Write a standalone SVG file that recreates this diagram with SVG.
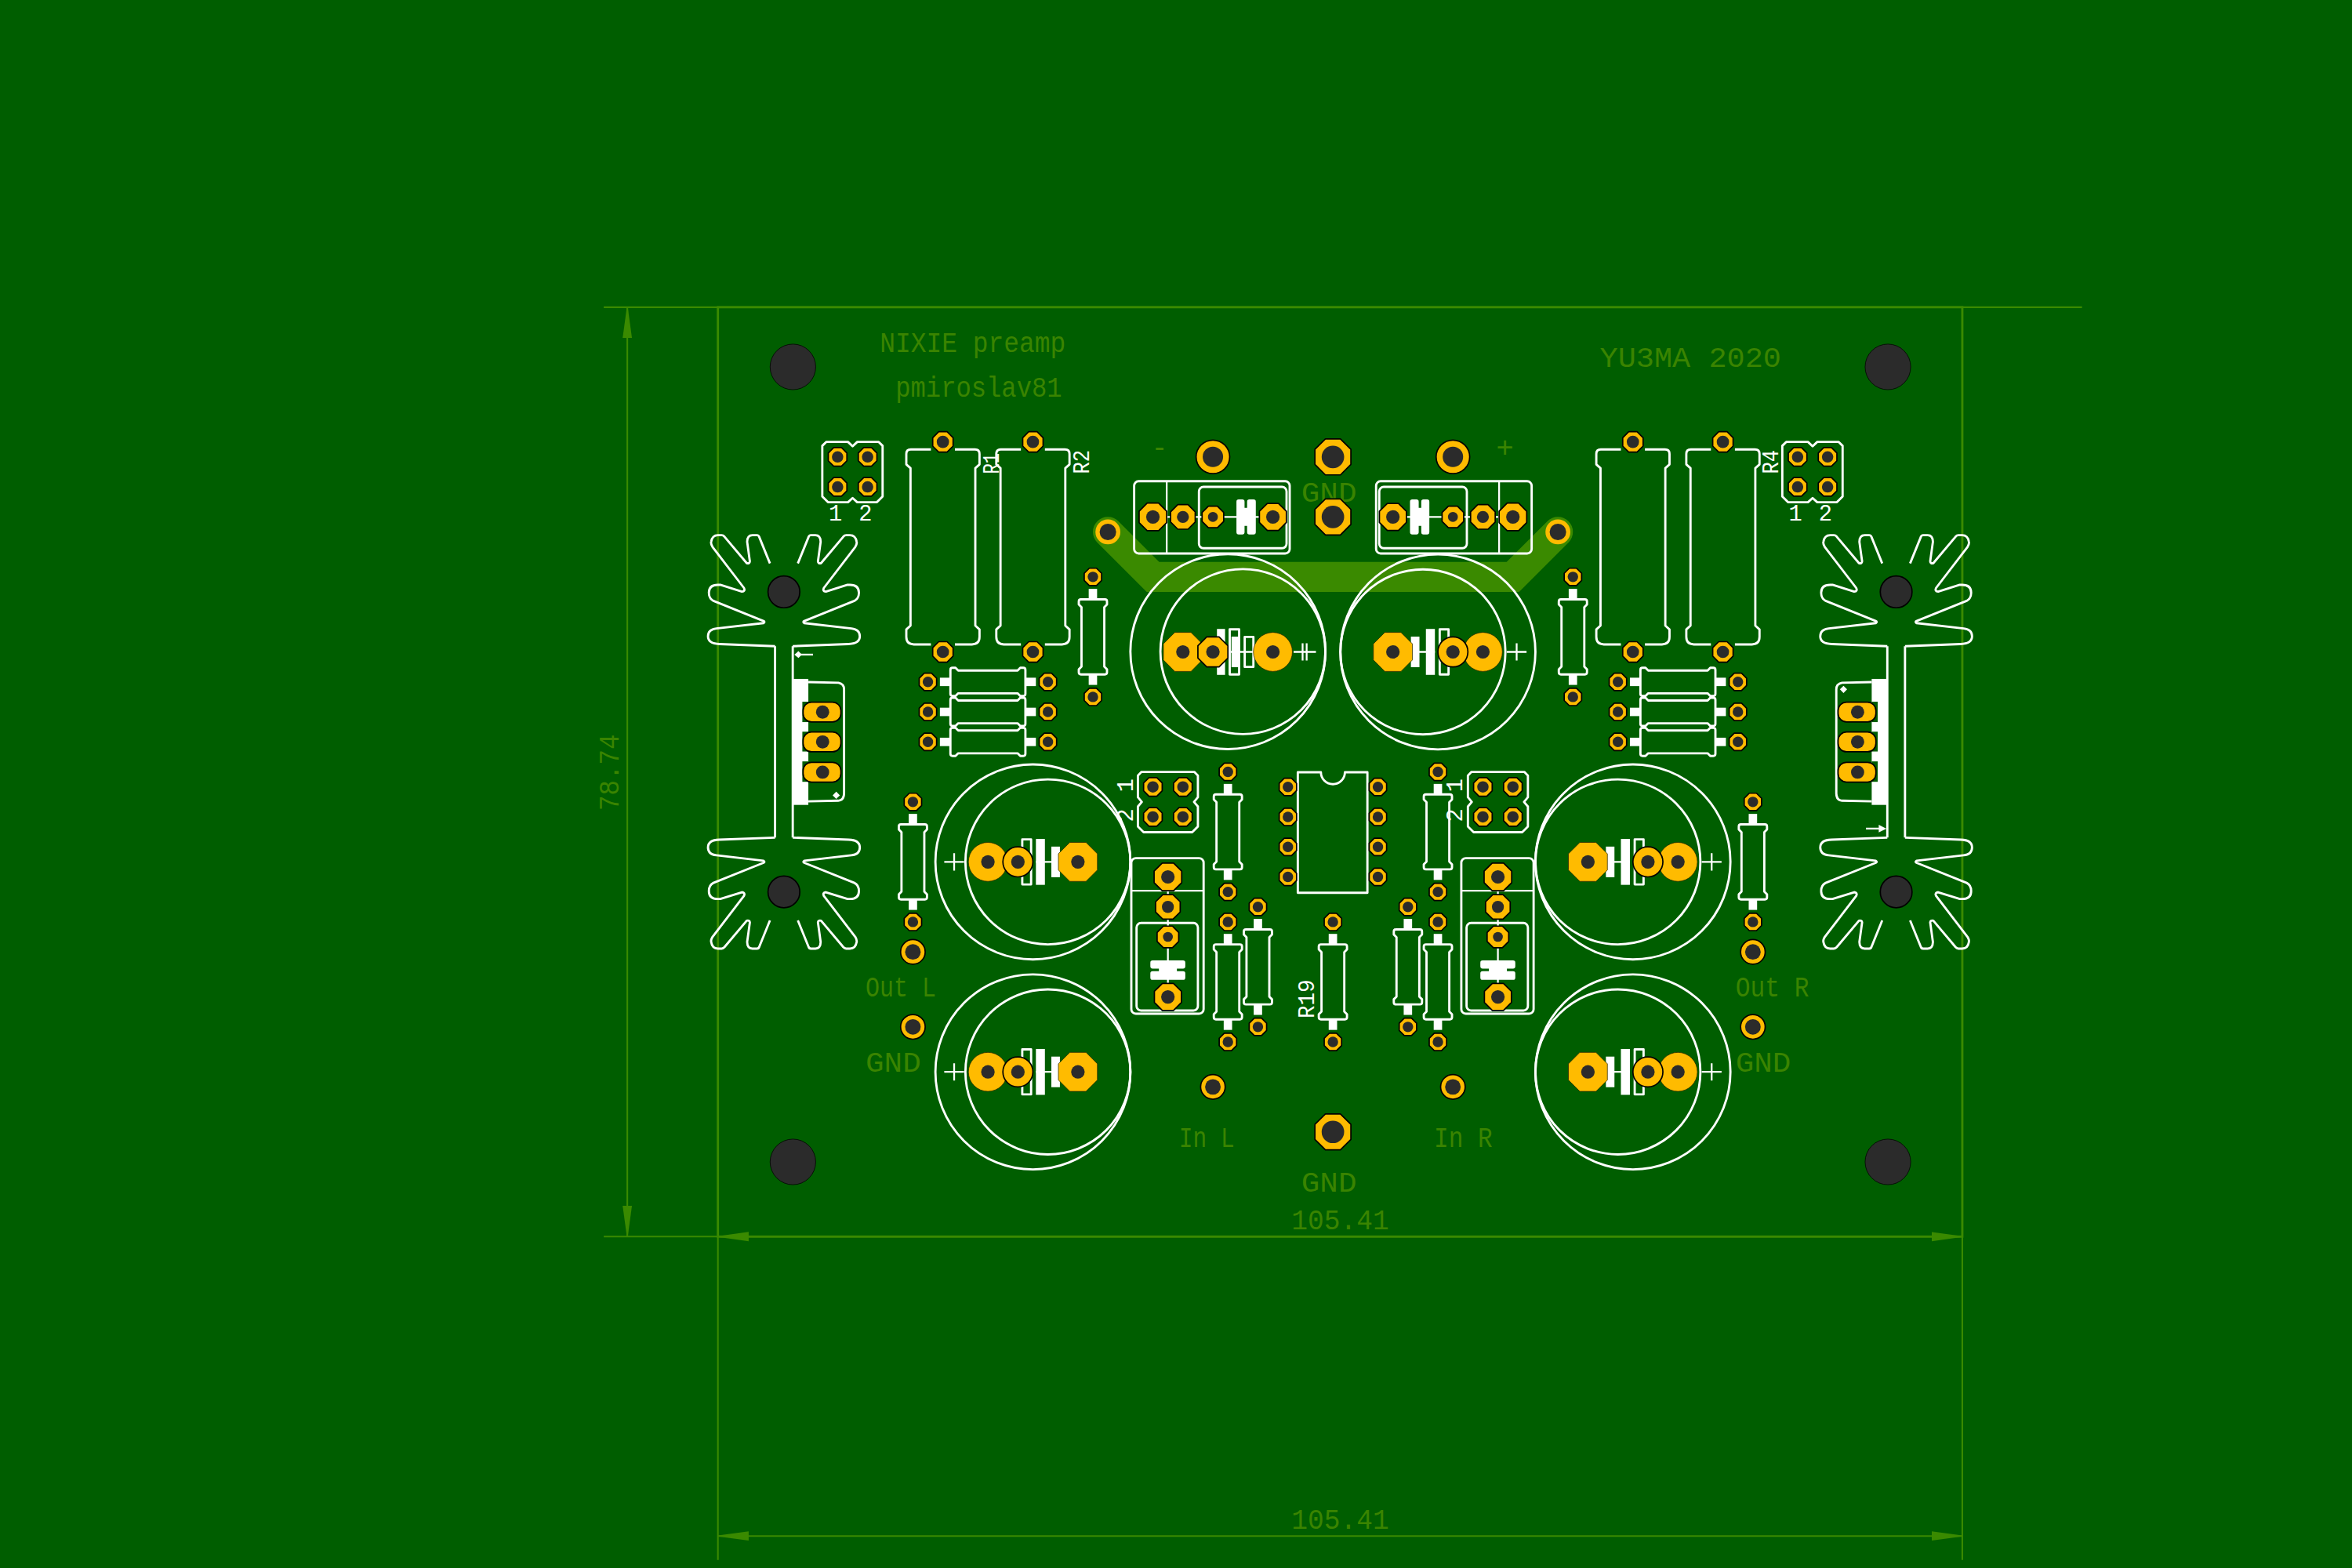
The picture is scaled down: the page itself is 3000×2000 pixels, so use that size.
<svg xmlns="http://www.w3.org/2000/svg" width="3000" height="2000" viewBox="0 0 3000 2000">
<style>
.w{fill:none;stroke:#fff;stroke-width:1.5;stroke-linejoin:round}
.wf{fill:#fff;stroke:none}
.wl{stroke:#fff;stroke-width:1.2;fill:none}
.ed{fill:none;stroke:#3a8a00;stroke-width:1.5}
.dm{fill:none;stroke:#3a8a00;stroke-width:1.1}
.cu{fill:#ffbb00;stroke:#000;stroke-width:.9;stroke-linejoin:round}
.cut{fill:#ffbb00;stroke:#2a2a00;stroke-width:.4}
.h{fill:#2b2b2b}
.hs{fill:#2b2b2b;stroke:#000;stroke-width:.9}
.hn{fill:#2b2b2b;stroke:#000;stroke-width:.4}
.t{font-family:"Liberation Mono","DejaVu Sans Mono",monospace;font-size:19.7px;fill:#3a8400}
.s{font-family:"Liberation Mono","DejaVu Sans Mono",monospace;font-size:15px;fill:#fff}
</style>
<defs>
<marker id="arw" markerUnits="userSpaceOnUse" markerWidth="22" markerHeight="8" refX="20.5" refY="4" orient="auto-start-reverse"><path d="M0,.9L20.5,3.7V4.3L0,7.1Z" fill="#3a8a00"/></marker>
<g id="pA"><polygon class="cu" points="5.8,2.4 2.4,5.8 -2.4,5.8 -5.8,2.4 -5.8,-2.4 -2.4,-5.8 2.4,-5.8 5.8,-2.4"/><circle class="h" r="3.5"/></g>
<g id="pB"><polygon class="cu" points="6.8,2.8 2.8,6.8 -2.8,6.8 -6.8,2.8 -6.8,-2.8 -2.8,-6.8 2.8,-6.8 6.8,-2.8"/><circle class="h" r="4.1"/></g>
<g id="pC"><polygon class="cu" points="6.2,2.6 2.6,6.2 -2.6,6.2 -6.2,2.6 -6.2,-2.6 -2.6,-6.2 2.6,-6.2 6.2,-2.6"/><circle class="h" r="3.8"/></g>
<g id="pE"><polygon class="cu" points="9.2,3.8 3.8,9.2 -3.8,9.2 -9.2,3.8 -9.2,-3.8 -3.8,-9.2 3.8,-9.2 9.2,-3.8"/><circle class="h" r="4.5"/></g>
<g id="pF"><polygon class="cu" points="8.2,3.4 3.4,8.2 -3.4,8.2 -8.2,3.4 -8.2,-3.4 -3.4,-8.2 3.4,-8.2 8.2,-3.4"/><circle class="h" r="4"/></g>
<g id="pG"><polygon class="cu" points="7.2,3 3,7.2 -3,7.2 -7.2,3 -7.2,-3 -3,-7.2 3,-7.2 7.2,-3"/><circle class="h" r="3.3"/></g>
<g id="pH"><polygon class="cu" points="9,3.7 3.7,9 -3.7,9 -9,3.7 -9,-3.7 -3.7,-9 3.7,-9 9,-3.7"/><circle class="h" r="4.5"/></g>
<g id="pI"><polygon class="cu" points="12,5 5,12 -5,12 -12,5 -12,-5 -5,-12 5,-12 12,-5"/><circle class="h" r="7.5"/></g>
<g id="pJ"><polygon class="cut" points="13,5.4 5.4,13 -5.4,13 -13,5.4 -13,-5.4 -5.4,-13 5.4,-13 13,-5.4"/><circle class="h" r="4.5"/></g>
<g id="pK"><polygon class="cu" points="10,4.1 4.1,10 -4.1,10 -10,4.1 -10,-4.1 -4.1,-10 4.1,-10 10,-4.1"/><circle class="h" r="4.5"/></g>
<g id="rD"><circle class="cu" r="8.2"/><circle class="h" r="5.2"/></g>
<g id="rE"><circle class="cu" r="11.2"/><circle class="h" r="6.8"/></g>
<g id="rK"><circle class="cut" r="13"/><circle class="h" r="4.5"/></g>
<g id="rL"><circle class="cu" r="10"/><circle class="h" r="4.5"/></g>
<g id="rM"><circle fill="#ffbb00" r="8.3"/><circle class="h" r="5.5"/></g>
<g id="obl"><rect class="cu" x="-12.6" y="-6.6" width="25.2" height="13.2" rx="5.6"/><circle class="h" cx=".4" r="4.4"/></g>
<g id="rs"><path class="w" d="M-8,-25H8Q9.4,-25 9.4,-23.6V-21.6L7.6,-19.8V19.8L9.4,21.6V23.6Q9.4,25 8,25H-8Q-9.4,25 -9.4,23.6V21.6L-7.6,19.8V-19.8L-9.4,-21.6V-23.6Q-9.4,-25 -8,-25Z"/><rect class="wf" x="-2.8" y="-32" width="5.6" height="7"/><rect class="wf" x="-2.8" y="25" width="5.6" height="7"/></g>
<g id="rb"><path class="w" d="M-8,-65H-21.4Q-24.4,-65 -24.4,-62V-55L-21.6,-52.5V52.5L-24.4,55V60Q-24.4,65 -19.4,65H-8M8,-65H21.4Q24.4,-65 24.4,-62V-55L21.6,-52.5V52.5L24.4,55V60Q24.4,65 19.4,65H8"/><use href="#pB" y="-70"/><use href="#pB" y="70"/></g>
<g id="hd"><path class="w" d="M-17.6,-20H-3.1L0,-17.1L3.1,-20H17.4L20,-17.4V16.4L16.2,20.2H3.1L0,17.4L-3.1,20.2H-16.4L-20.2,16.4V-17.4Z"/><use href="#pC" x="-10" y="-10"/><use href="#pC" x="10" y="-10"/><use href="#pC" x="-10" y="10"/><use href="#pC" x="10" y="10"/></g>
<g id="hv"><path class="w" d="M-17.6,-20H17.6L20,-17.6V-3.1L17.4,0L20,3.1V16.4L16.2,20.2H-16.2L-20,16.4V3.1L-17.4,0L-20,-3.1V-17.6Z"/><use href="#pC" x="-10" y="-10"/><use href="#pC" x="10" y="-10"/><use href="#pC" x="-10" y="10"/><use href="#pC" x="10" y="10"/></g>
<g id="rel"><rect class="w" x="-12.5" y="-23.8" width="103.7" height="48.2" rx="3"/><path class="wl" d="M9.2,-23.8V24.4"/><rect class="w" x="30.7" y="-20" width="58.4" height="40.9" rx="3"/><path class="wl" d="M0,0H80"/><path class="wf" d="M57.2,-11.6H59.6Q61.1,-11.6 61.1,-10.1V-6H62.8V-10.1Q62.8,-11.6 64.3,-11.6H67.1Q68.6,-11.6 68.6,-10.1V10.2Q68.6,11.7 67.1,11.7H64.3Q62.8,11.7 62.8,10.2V6H61.1V10.2Q61.1,11.7 59.6,11.7H57.2Q55.7,11.7 55.7,10.2V-10.1Q55.7,-11.6 57.2,-11.6Z"/><use href="#pE"/><use href="#pF" x="20"/><use href="#pG" x="40"/><use href="#pH" x="80"/></g>
<g id="cap"><circle class="w" r="65"/><circle class="w" cx="-10" r="55"/><path class="wl" d="M-18,0H-2M45.9,0H59.1M52.5,-5.8V5.8"/><rect class="wf" x="-18" y="-10.2" width="5.7" height="20.4"/><rect class="wf" x="-8" y="-15.3" width="6" height="30.6"/><rect class="w" x="1.2" y="-15" width="5.9" height="30"/><use href="#pJ" x="-30"/><use href="#rK" x="30"/><use href="#rL" x="10"/></g>
<path id="fin" class="w" d="M-5.9,36.2L-43,34.8Q-50.6,34.6 -50.6,29.6Q-50.6,25 -45,24.4L-13.6,20.8Q-12.4,20 -13.6,19.4L-47,6Q-50,4.5 -50,.5Q-50,-4.7 -44,-4.7L-42.4,-4.7L-28,-.2Q-25.6,-.5 -26.6,-2.6L-47.6,-30Q-48.8,-32 -48.5,-33.4Q-47.8,-37.8 -44,-37.8L-41.5,-37.8Q-40.5,-37.8 -39.6,-36.8L-24.8,-19.2Q-22.8,-18.7 -22.7,-20.4L-24.5,-33.4Q-24.4,-37.8 -21,-37.8L-18,-37.8Q-16.8,-37.8 -16.4,-36.5L-9.3,-19"/>
<g id="sink"><use href="#fin"/><use href="#fin" transform="scale(-1,1)"/><circle class="hs" r="10.6"/></g>
</defs>
<rect id="background" width="3000" height="2000" fill="#005e00"/>
<g id="board" transform="scale(1.91327)">
<g id="connectors">
<polyline id="trace" points="738.6,354.6 768.6,384.6 1008.6,384.6 1038.6,354.6" fill="none" stroke="#3a8a00" stroke-width="20" stroke-linecap="round"/>
<rect id="edge" class="ed" x="478.6" y="204.8" width="829.6" height="619.6"/>
<path class="dm" d="M402.5,204.8H1388M402.5,824.4H478.6M478.6,824.4V1040M1308.2,824.4V1040"/>
<path class="dm" marker-start="url(#arw)" marker-end="url(#arw)" d="M418.2,204.8V824.4"/>
<path class="dm" marker-start="url(#arw)" marker-end="url(#arw)" d="M478.6,824.4H1308.2"/>
<path class="dm" marker-start="url(#arw)" marker-end="url(#arw)" d="M478.6,1024H1308.2"/>
</g>
<g id="labels">
<text class="t" lengthAdjust="spacingAndGlyphs" x="586.5" y="234.5" textLength="124">NIXIE preamp</text>
<text class="t" lengthAdjust="spacingAndGlyphs" x="597" y="264.5" textLength="111">pmiroslav81</text>
<text class="t" lengthAdjust="spacingAndGlyphs" x="1066.5" y="244.5" textLength="121">YU3MA 2020</text>
<text class="t" lengthAdjust="spacingAndGlyphs" x="767.5" y="304.2" textLength="11">-</text>
<text class="t" x="1003.3" y="304.7" text-anchor="middle">+</text>
<text class="t" lengthAdjust="spacingAndGlyphs" x="867.5" y="334.5" textLength="37">GND</text>
<text class="t" lengthAdjust="spacingAndGlyphs" x="577" y="664.2" textLength="47">Out L</text>
<text class="t" lengthAdjust="spacingAndGlyphs" x="577" y="714.3" textLength="37">GND</text>
<text class="t" lengthAdjust="spacingAndGlyphs" x="1157" y="664.2" textLength="49">Out R</text>
<text class="t" lengthAdjust="spacingAndGlyphs" x="1157" y="714.3" textLength="37">GND</text>
<text class="t" lengthAdjust="spacingAndGlyphs" x="786" y="764.5" textLength="37">In L</text>
<text class="t" lengthAdjust="spacingAndGlyphs" x="956" y="764.5" textLength="39">In R</text>
<text class="t" lengthAdjust="spacingAndGlyphs" x="867.5" y="794.5" textLength="37">GND</text>
<text class="t" lengthAdjust="spacingAndGlyphs" x="861" y="819.5" textLength="65">105.41</text>
<text class="t" lengthAdjust="spacingAndGlyphs" x="861" y="1019" textLength="65">105.41</text>
<text class="t" lengthAdjust="spacingAndGlyphs" transform="translate(412.5,540.5) rotate(-90)" textLength="51">78.74</text>
</g>
<g id="mounting-holes">
<circle class="hn" cx="528.6" cy="244.6" r="15.2"/>
<circle class="hn" cx="1258.6" cy="244.6" r="15.2"/>
<circle class="hn" cx="528.6" cy="774.6" r="15.2"/>
<circle class="hn" cx="1258.6" cy="774.6" r="15.2"/>
</g>
<g id="heatsink-left">
<use href="#sink" transform="translate(522.6,394.6)"/>
<use href="#sink" transform="translate(522.6,594.6) scale(1,-1)"/>
<path class="w" d="M516.7,430.8V558.4M528.5,430.8V558.4"/>
</g>
<g id="heatsink-right">
<use href="#sink" transform="translate(1264.1,394.6)"/>
<use href="#sink" transform="translate(1264.1,594.6) scale(1,-1)"/>
<path class="w" d="M1258.2,430.8V558.4M1270,430.8V558.4"/>
</g>
<g id="U-left">
<path class="w" d="M538.9,454.7L559,455.2Q562.7,456 562.7,459.5V529Q562.7,533.4 558.8,533.8L538.9,534.2"/>
<rect class="wf" x="528.4" y="452.6" width="10.5" height="84"/>
<rect x="534.9" y="467.8" width="4" height="13.6" fill="#005e00"/>
<rect x="534.9" y="487.8" width="4" height="13.2" fill="#005e00"/>
<rect x="534.9" y="507.6" width="4" height="13.6" fill="#005e00"/>
<use href="#obl" x="548" y="474.7"/><use href="#obl" x="548" y="494.6"/><use href="#obl" x="548" y="514.8"/>
<path class="wf" d="M557.5,527.8L559.9,530.2L557.5,532.6L555.1,530.2Z"/>
<path class="wl" d="M532.3,436.4H542"/><path class="wf" d="M529.6,436.4L532.3,434.1L534.6,436.4L532.3,438.7Z"/>
</g>
<g id="U-right">
<path class="w" d="M1247.8,454.7L1228,455.2Q1224.2,456 1224.2,459.5V529Q1224.2,533.4 1228,533.8L1247.8,534.2"/>
<rect class="wf" x="1247.8" y="452.6" width="10.5" height="84"/>
<rect x="1247.8" y="467.8" width="4" height="13.6" fill="#005e00"/>
<rect x="1247.8" y="487.8" width="4" height="13.2" fill="#005e00"/>
<rect x="1247.8" y="507.6" width="4" height="13.6" fill="#005e00"/>
<use href="#obl" x="1238" y="474.7"/><use href="#obl" x="1238" y="494.6"/><use href="#obl" x="1238" y="514.8"/>
<path class="wf" d="M1229,457.2L1231.4,459.6L1229,462L1226.6,459.6Z"/>
<path class="wl" d="M1244,552.4H1254"/><path class="wf" d="M1257.6,552.4L1252.5,549.8V555Z"/>
</g>
<g id="R1"><use href="#rb" x="628.6" y="364.6"/><text class="s" lengthAdjust="spacingAndGlyphs" transform="translate(666,316) rotate(-90)" textLength="14">R1</text></g>
<g id="R2"><use href="#rb" x="688.6" y="364.6"/><text class="s" lengthAdjust="spacingAndGlyphs" transform="translate(726,316) rotate(-90)" textLength="16">R2</text></g>
<g id="R3"><use href="#rb" x="1088.6" y="364.6"/></g>
<g id="R4"><use href="#rb" x="1148.6" y="364.6"/><text class="s" lengthAdjust="spacingAndGlyphs" transform="translate(1185.4,316) rotate(-90)" textLength="16">R4</text></g>
<g id="J1"><use href="#hd" x="568.4" y="314.6"/><text class="s" x="552.5" y="347">1</text><text class="s" x="572.5" y="347">2</text></g>
<g id="J2"><use href="#hd" x="1208.4" y="314.6"/><text class="s" x="1192.5" y="347">1</text><text class="s" x="1212.5" y="347">2</text></g>
<g id="J3"><use href="#hv" x="778.6" y="534.6"/><text class="s" transform="translate(755,528) rotate(-90)">1</text><text class="s" transform="translate(755,548) rotate(-90)">2</text></g>
<g id="J4"><use href="#hv" x="998.6" y="534.6"/><text class="s" transform="translate(975,528) rotate(-90)">1</text><text class="s" transform="translate(975,548) rotate(-90)">2</text></g>
<g id="RH-left">
<use href="#rs" transform="translate(658.6,454.6) rotate(90)"/><use href="#rs" transform="translate(658.6,474.6) rotate(90)"/><use href="#rs" transform="translate(658.6,494.6) rotate(90)"/>
<use href="#pA" x="618.6" y="454.6"/><use href="#pA" x="698.6" y="454.6"/><use href="#pA" x="618.6" y="474.6"/><use href="#pA" x="698.6" y="474.6"/><use href="#pA" x="618.6" y="494.6"/><use href="#pA" x="698.6" y="494.6"/>
</g>
<g id="RH-right">
<use href="#rs" transform="translate(1118.6,454.6) rotate(90)"/><use href="#rs" transform="translate(1118.6,474.6) rotate(90)"/><use href="#rs" transform="translate(1118.6,494.6) rotate(90)"/>
<use href="#pA" x="1078.6" y="454.6"/><use href="#pA" x="1158.6" y="454.6"/><use href="#pA" x="1078.6" y="474.6"/><use href="#pA" x="1158.6" y="474.6"/><use href="#pA" x="1078.6" y="494.6"/><use href="#pA" x="1158.6" y="494.6"/>
</g>
<g id="RV1"><use href="#rs" x="728.6" y="424.6"/><use href="#pA" x="728.6" y="384.6"/><use href="#pA" x="728.6" y="464.6"/></g>
<g id="RV2"><use href="#rs" x="1048.6" y="424.6"/><use href="#pA" x="1048.6" y="384.6"/><use href="#pA" x="1048.6" y="464.6"/></g>
<g id="RV3"><use href="#rs" x="608.6" y="574.6"/><use href="#pA" x="608.6" y="534.6"/><use href="#pA" x="608.6" y="614.6"/></g>
<g id="RV4"><use href="#rs" x="1168.6" y="574.6"/><use href="#pA" x="1168.6" y="534.6"/><use href="#pA" x="1168.6" y="614.6"/></g>
<g id="RV5"><use href="#rs" x="818.6" y="554.6"/><use href="#pA" x="818.6" y="514.6"/><use href="#pA" x="818.6" y="594.6"/></g>
<g id="RV6"><use href="#rs" x="958.6" y="554.6"/><use href="#pA" x="958.6" y="514.6"/><use href="#pA" x="958.6" y="594.6"/></g>
<g id="RV7"><use href="#rs" x="818.6" y="654.6"/><use href="#pA" x="818.6" y="614.6"/><use href="#pA" x="818.6" y="694.6"/></g>
<g id="RV8"><use href="#rs" x="838.6" y="644.6"/><use href="#pA" x="838.6" y="604.6"/><use href="#pA" x="838.6" y="684.6"/></g>
<g id="R19"><use href="#rs" x="888.6" y="654.6"/><use href="#pA" x="888.6" y="614.6"/><use href="#pA" x="888.6" y="694.6"/><text class="s" lengthAdjust="spacingAndGlyphs" transform="translate(876.2,679) rotate(-90)" textLength="26">R19</text></g>
<g id="RV9"><use href="#rs" x="938.6" y="644.6"/><use href="#pA" x="938.6" y="604.6"/><use href="#pA" x="938.6" y="684.6"/></g>
<g id="RV10"><use href="#rs" x="958.6" y="654.6"/><use href="#pA" x="958.6" y="614.6"/><use href="#pA" x="958.6" y="694.6"/></g>
<g id="IC"><path class="w" d="M880.6,514.8H865.2V595.2H911.6V514.8H896.6A8,8 0 0 1 880.6,514.8Z"/>
<use href="#pA" x="858.6" y="524.6"/><use href="#pA" x="858.6" y="544.6"/><use href="#pA" x="858.6" y="564.6"/><use href="#pA" x="858.6" y="584.6"/><use href="#pA" x="918.6" y="524.6"/><use href="#pA" x="918.6" y="544.6"/><use href="#pA" x="918.6" y="564.6"/><use href="#pA" x="918.6" y="584.6"/></g>
<g id="REL-1"><use href="#rel" transform="translate(768.6,344.6)"/></g>
<g id="REL-2"><use href="#rel" transform="translate(1008.6,344.6) scale(-1,1)"/></g>
<g id="REL-3"><use href="#rel" transform="translate(778.6,584.6) rotate(90)"/></g>
<g id="REL-4"><use href="#rel" transform="translate(998.6,584.6) rotate(90)"/></g>
<g id="C1">
<circle class="w" cx="818.6" cy="434.4" r="65"/><circle class="w" cx="828.6" cy="434.4" r="55"/>
<path class="wl" d="M820.6,434.6H835.6M862.4,434.6H877.3M868.4,428.8V440.4M871.1,428.8V440.4"/>
<rect class="wf" x="811.3" y="419.3" width="5.4" height="30.6"/>
<rect class="w" x="819.8" y="419.6" width="6.3" height="30"/>
<rect class="wf" x="821" y="424.4" width="5.7" height="20.4"/>
<rect class="w" x="829.8" y="424.6" width="5.8" height="20"/>
<use href="#pJ" x="788.6" y="434.6"/><use href="#pK" x="808.6" y="434.6"/><use href="#rK" x="848.6" y="434.6"/>
</g>
<g id="C2"><use href="#cap" x="958.6" y="434.6"/></g>
<g id="C3"><use href="#cap" transform="translate(688.6,574.6) scale(-1,1)"/></g>
<g id="C4"><use href="#cap" transform="translate(688.6,714.6) scale(-1,1)"/></g>
<g id="C5"><use href="#cap" x="1088.6" y="574.6"/></g>
<g id="C6"><use href="#cap" x="1088.6" y="714.6"/></g>
<g id="P-minus"><use href="#rE" x="808.6" y="304.6"/></g>
<g id="P-plus"><use href="#rE" x="968.6" y="304.6"/></g>
<g id="P-gnd1"><use href="#pI" x="888.6" y="304.6"/></g>
<g id="P-gnd2"><use href="#pI" x="888.6" y="344.6"/></g>
<g id="P-gnd3"><use href="#pI" x="888.6" y="754.6"/></g>
<g id="P-trace1"><use href="#rM" x="738.6" y="354.6"/></g>
<g id="P-trace2"><use href="#rM" x="1038.6" y="354.6"/></g>
<g id="P-outL"><use href="#rD" x="608.6" y="634.6"/></g>
<g id="P-gndL"><use href="#rD" x="608.6" y="684.6"/></g>
<g id="P-outR"><use href="#rD" x="1168.6" y="634.6"/></g>
<g id="P-gndR"><use href="#rD" x="1168.6" y="684.6"/></g>
<g id="P-inL"><use href="#rD" x="808.6" y="724.6"/></g>
<g id="P-inR"><use href="#rD" x="968.6" y="724.6"/></g>
</g>
</svg>
